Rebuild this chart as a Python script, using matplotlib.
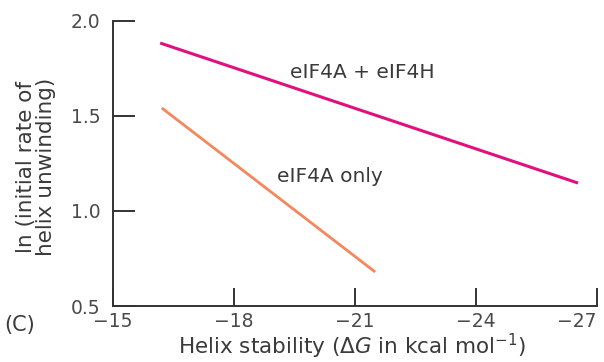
import matplotlib
matplotlib.use("Agg")
import matplotlib.pyplot as plt

plt.rcParams['font.family'] = ['DejaVu Sans']

# Data
x_both = [-16.17, -26.53]
y_both = [1.884, 1.147]
x_only = [-16.21, -21.50]
y_only = [1.542, 0.679]
xticks = [-15, -18, -21, -24, -27]
xticklabels = ['\u221215', '\u221218', '\u221221', '\u221224', '\u221227']
yticks = [0.5, 1.0, 1.5, 2.0]
yticklabels = ['0.5', '1.0', '1.5', '2.0']

W, H = 604, 362
fig = plt.figure(figsize=(W / 100, H / 100), dpi=100)
ax = fig.add_axes([113 / W, 1 - 306 / H, (597 - 113) / W, (306 - 21) / H])

magenta = '#e0107f'
orange = '#f4875c'
dark = '#333333'
txt = '#3a3a3a'

ax.plot(x_both, y_both, color=magenta, lw=2.2, solid_capstyle='butt')
ax.plot(x_only, y_only, color=orange, lw=2.0, solid_capstyle='butt')

ax.set_xlim(-15, -27)
ax.set_ylim(0.5, 2.0)

for s in ['top', 'right']:
    ax.spines[s].set_visible(False)
for s in ['left', 'bottom']:
    ax.spines[s].set_color(dark)
    ax.spines[s].set_linewidth(1.4)

ax.set_xticks(xticks)
ax.set_xticklabels(xticklabels)
ax.set_yticks(yticks)
ax.set_yticklabels(yticklabels)
ax.tick_params(axis='y', direction='in', length=16, width=1.4, color=dark,
               labelsize=13.5, labelcolor='#4a4a4a', pad=9)
ax.tick_params(axis='x', direction='in', length=13, width=1.4, color=dark,
               labelsize=13.5, labelcolor='#4a4a4a', pad=4)
for lab in ax.get_xticklabels()[-1:]:
    lab.set_ha('right')

ax.text(-21.17, 1.73, 'eIF4A + eIF4H', ha='center', va='center',
        fontsize=14.5, color=txt)
ax.text(-20.38, 1.18, 'eIF4A only', ha='center', va='center',
        fontsize=14.5, color=txt)

fig.text(352 / W, 1 - 346 / H, 'Helix stability ($\\Delta$$G$ in kcal mol$^{\\mathregular{-1}}$)',
         ha='center', va='center', fontsize=15.5, color=txt)
fig.text(36 / W, 1 - 167 / H, 'ln (initial rate of\nhelix unwinding)',
         ha='center', va='center', rotation=90, fontsize=15.5, color=txt,
         linespacing=1.0)
fig.text(4 / W, 1 - 325 / H, '(C)', ha='left', va='center', fontsize=15,
         color=txt)

fig.savefig('out.png', dpi=100)
